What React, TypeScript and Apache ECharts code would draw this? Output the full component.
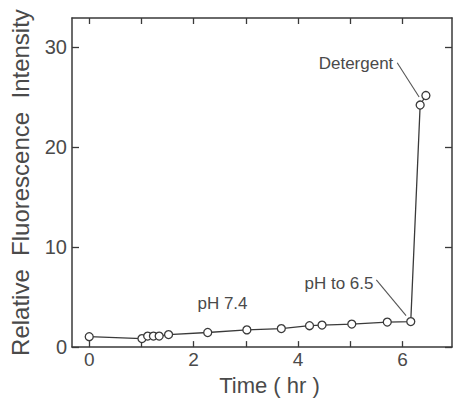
import React, { useEffect, useRef } from "react";
import * as echarts from "echarts";

const timeHr = [0, 1.01, 1.12, 1.23, 1.34, 1.52, 2.27, 3.02, 3.68, 4.22, 4.46, 5.03, 5.71, 6.16, 6.34, 6.45];
const intensity = [1.04, 0.85, 1.1, 1.1, 1.1, 1.25, 1.46, 1.72, 1.85, 2.14, 2.2, 2.3, 2.5, 2.55, 24.2, 25.15];

const xTickValues = [0, 1, 2, 3, 4, 5, 6];
const xLabelValues = [0, 2, 4, 6];
const yTickValues = [0, 10, 20, 30];

const detergentLeader = [[5.9, 28.43], [6.32, 25.0]];
const phLeader = [[5.5, 6.72], [6.07, 3.15]];

const FONT = "Liberation Sans, Arial, Helvetica, sans-serif";
const INK = "#3a3a3a";
const TXT = "#4a4a4a";

export default function App() {
  const ref = useRef<HTMLDivElement>(null);
  useEffect(() => {
    if (!ref.current) return;
    const chart = echarts.init(ref.current, undefined, { renderer: "svg" });
    const axisLine = { show: true, onZero: false, lineStyle: { color: INK, width: 1.5 } };
    const tickStyle = { color: INK, width: 1.3 };
    chart.setOption({
      animation: false,
      backgroundColor: "#fff",
      grid: { left: 71, right: 1, top: 18, bottom: 46, containLabel: false },
      xAxis: [
        {
          type: "value",
          min: -0.33,
          max: 6.95,
          position: "bottom",
          axisLine,
          splitLine: { show: false },
          axisTick: { show: true, inside: true, length: 6, lineStyle: tickStyle, customValues: xTickValues },
          axisLabel: {
            show: true,
            customValues: xLabelValues,
            margin: 3,
            fontSize: 19,
            color: TXT,
            fontFamily: FONT,
          },
          name: "Time ( hr )",
          nameLocation: "middle",
          nameGap: 25,
          nameTextStyle: { fontSize: 22, color: TXT, fontFamily: FONT, padding: [0, 0, 0, 15] },
        },
        {
          type: "value",
          min: -0.33,
          max: 6.95,
          position: "top",
          axisLine,
          splitLine: { show: false },
          axisTick: { show: true, inside: true, length: 6, lineStyle: tickStyle, customValues: xTickValues },
          axisLabel: { show: false },
        },
      ],
      yAxis: [
        {
          type: "value",
          min: 0,
          max: 32.9,
          position: "left",
          axisLine,
          splitLine: { show: false },
          axisTick: { show: true, inside: true, length: 7, lineStyle: tickStyle, customValues: yTickValues },
          axisLabel: {
            show: true,
            customValues: yTickValues,
            margin: 5,
            fontSize: 20,
            color: TXT,
            fontFamily: FONT,
          },
          name: "Relative  Fluorescence  Intensity",
          nameLocation: "middle",
          nameRotate: 90,
          nameGap: 40,
          nameTextStyle: { fontSize: 24, color: TXT, fontFamily: FONT },
        },
        {
          type: "value",
          min: 0,
          max: 32.9,
          position: "right",
          axisLine,
          splitLine: { show: false },
          axisTick: { show: true, inside: true, length: 7, lineStyle: tickStyle, customValues: yTickValues },
          axisLabel: { show: false },
        },
      ],
      series: [
        {
          type: "line",
          data: timeHr.map((t, i) => [t, intensity[i]]),
          symbol: "circle",
          symbolSize: 8,
          showSymbol: true,
          lineStyle: { color: INK, width: 1.3 },
          itemStyle: { color: "#fff", borderColor: INK, borderWidth: 1.3 },
          z: 3,
        },
        {
          type: "line",
          data: detergentLeader,
          symbol: "none",
          lineStyle: { color: "#555", width: 1.1 },
          z: 2,
        },
        {
          type: "line",
          data: phLeader,
          symbol: "none",
          lineStyle: { color: "#555", width: 1.1 },
          z: 2,
        },
      ],
      graphic: [
        {
          type: "text",
          x: 356,
          y: 63,
          style: { text: "Detergent", fontSize: 17, fill: TXT, fontFamily: FONT, align: "center", verticalAlign: "middle" },
        },
        {
          type: "text",
          x: 339,
          y: 283,
          style: { text: "pH to 6.5", fontSize: 17, fill: TXT, fontFamily: FONT, align: "center", verticalAlign: "middle" },
        },
        {
          type: "text",
          x: 222.5,
          y: 303,
          style: { text: "pH 7.4", fontSize: 17, fill: TXT, fontFamily: FONT, align: "center", verticalAlign: "middle" },
        },
      ],
    });
    return () => chart.dispose();
  }, []);
  return <div ref={ref} style={{ width: 453, height: 401, position: "absolute", left: 0, top: 0 }} />;
}
